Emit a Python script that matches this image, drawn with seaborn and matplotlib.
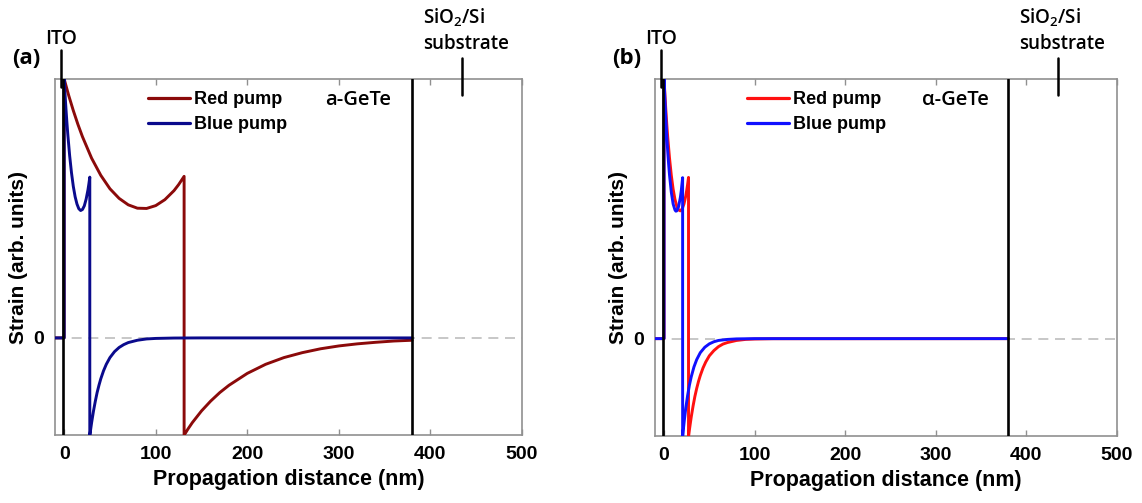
import matplotlib
matplotlib.use("Agg")
import matplotlib.pyplot as plt
import seaborn as sns

# ---- data ----
# panel (a): a-GeTe
a_red_x = [-10, 0, 0, 5, 10, 15, 20, 30, 40, 50, 60, 70, 80, 90, 100, 110, 120, 125, 131,
           131, 135, 140, 150, 160, 170, 180, 200, 220, 240, 260, 280, 300, 320, 340, 360, 380]
a_red_y = [0, 0, 1.0, 0.936, 0.878, 0.825, 0.777, 0.694, 0.628, 0.576, 0.539, 0.514, 0.501, 0.500,
           0.511, 0.534, 0.569, 0.592, 0.624,
           -0.376, -0.353, -0.327, -0.282, -0.244, -0.211, -0.183, -0.137, -0.102, -0.076, -0.057,
           -0.042, -0.031, -0.023, -0.017, -0.012, -0.009]

a_blue_x = [-10, 0, 0, 1, 2, 3, 4, 6, 8, 10, 12, 14, 16, 18, 20, 22, 24, 26, 27, 28,
            28, 29, 30, 32, 34, 36, 38, 40, 43, 46, 50, 55, 60, 65, 70, 80, 90, 100, 120, 150, 380]
a_blue_y = [0, 0, 1.0, 0.939, 0.883, 0.832, 0.785, 0.704, 0.638, 0.585, 0.545, 0.517, 0.499, 0.492,
            0.496, 0.510, 0.536, 0.572, 0.595, 0.621,
            -0.379, -0.352, -0.327, -0.283, -0.245, -0.211, -0.183, -0.158, -0.127, -0.102, -0.076,
            -0.053, -0.037, -0.026, -0.018, -0.009, -0.004, -0.002, -0.0005, 0, 0]

# panel (b): alpha-GeTe
b_red_x = [-10, 0, 0, 1, 2, 3, 4, 6, 8, 10, 12, 14, 16, 18, 20, 22, 24, 25, 26, 27,
           27, 28, 29, 30, 32, 34, 36, 38, 40, 43, 46, 50, 55, 60, 65, 70, 80, 90, 100, 120, 380]
b_red_y = [0, 0, 1.0, 0.937, 0.879, 0.826, 0.778, 0.696, 0.629, 0.576, 0.537, 0.511, 0.496, 0.492,
           0.500, 0.519, 0.550, 0.571, 0.594, 0.621,
           -0.379, -0.351, -0.326, -0.302, -0.260, -0.223, -0.192, -0.165, -0.142, -0.113, -0.090,
           -0.066, -0.046, -0.031, -0.021, -0.015, -0.007, -0.003, -0.0015, -0.0003, 0]

b_blue_x = [-10, 0, 0, 1, 2, 3, 4, 5, 6, 8, 10, 12, 13, 14, 16, 18, 19, 20.5,
            20.5, 21.5, 22.5, 24, 26, 28, 30, 33, 36, 40, 45, 50, 55, 60, 70, 80, 100, 380]
b_blue_y = [0, 0, 1.0, 0.918, 0.845, 0.780, 0.723, 0.674, 0.631, 0.564, 0.519, 0.496, 0.491, 0.492,
            0.508, 0.544, 0.570, 0.620,
            -0.380, -0.343, -0.311, -0.267, -0.219, -0.179, -0.147, -0.109, -0.081, -0.054, -0.033,
            -0.020, -0.012, -0.007, -0.003, -0.001, 0, 0]

x_ticks = [0, 100, 200, 300, 400, 500]
ito_pos = 0
substrate_pos = 380

sns.set_theme(style="white")
plt.rcParams["font.family"] = ["Liberation Sans", "DejaVu Sans"]
plt.rcParams["mathtext.default"] = "regular"
for key in ["text.color", "axes.labelcolor", "xtick.labelcolor", "ytick.labelcolor"]:
    plt.rcParams[key] = "black"

W, H = 1142, 503
fig = plt.figure(figsize=(W / 100, H / 100), dpi=100)

# axes boxes in pixels (left, top, right, bottom)
boxes = [(55, 79, 522, 435), (655, 79, 1117, 436)]

panels = [
    dict(red_x=a_red_x, red_y=a_red_y, blue_x=a_blue_x, blue_y=a_blue_y,
         red_c="#8b0a0a", blue_c="#0a0a8c", tag="(a)", film="a-GeTe"),
    dict(red_x=b_red_x, red_y=b_red_y, blue_x=b_blue_x, blue_y=b_blue_y,
         red_c="#ff1010", blue_c="#1010ff", tag="(b)", film="\u03b1-GeTe"),
]

side_font = ["Open Sans", "DejaVu Sans"]
lw = 2.1

for (l, t, r, b), p in zip(boxes, panels):
    ax = fig.add_axes([l / W, 1 - b / H, (r - l) / W, (b - t) / H])
    ax.axhline(0, color="#bdbdbd", lw=1.2, ls=(0, (6, 4)), zorder=1)
    sns.lineplot(x=p["red_x"], y=p["red_y"], ax=ax, sort=False, estimator=None,
                 color=p["red_c"], lw=lw, label="Red pump", zorder=3)
    sns.lineplot(x=p["blue_x"], y=p["blue_y"], ax=ax, sort=False, estimator=None,
                 color=p["blue_c"], lw=lw, label="Blue pump", zorder=4)
    ax.axvline(ito_pos - 0.8, color="black", lw=1.9, zorder=5)
    ax.axvline(substrate_pos, color="black", lw=1.9, zorder=5)

    ax.set_xlim(-10, 500)
    ax.set_ylim(-0.375, 1.0)
    ax.set_xticks(x_ticks)
    ax.set_yticks([0])
    ax.tick_params(axis="x", direction="in", length=4, width=1, color="#909090",
                   top=True, bottom=True, pad=8, labelsize=14)
    ax.tick_params(axis="y", length=0, pad=8, labelsize=14)
    for lab in ax.get_xticklabels() + ax.get_yticklabels():
        lab.set_fontweight("bold")
    for s in ax.spines.values():
        s.set_color("#909090")
        s.set_linewidth(1.2)

    ax.set_xlabel("Propagation distance (nm)", fontsize=15.5, fontweight="bold", labelpad=4)
    ax.set_ylabel("Strain (arb. units)", fontsize=15, fontweight="bold", labelpad=4)

    leg = ax.legend(loc="upper left", bbox_to_anchor=(0.2, 0.965), frameon=False,
                    prop=dict(weight="bold", size=13), handlelength=2.3,
                    handletextpad=0.25, labelspacing=0.42, borderpad=0, borderaxespad=0)
    for h in leg.get_lines():
        h.set_linewidth(2.3)

    ax.text(285, 0.94, p["film"], fontsize=14.5, family=side_font, fontweight="semibold",
            va="center", ha="left", transform=ax.get_xaxis_transform())

    # markers above the frame
    xt = ax.get_xaxis_transform()
    ax.plot([ito_pos - 3.5, ito_pos - 3.5], [0.978, 1.081], color="black", lw=1.8,
            transform=xt, clip_on=False, zorder=6)
    ax.plot([435, 435], [0.955, 1.059], color="black", lw=1.8,
            transform=xt, clip_on=False, zorder=6)
    ax.text(-3.5, 1.113, "ITO", fontsize=14, family=side_font, fontweight="semibold",
            ha="center", va="center", transform=xt)
    ax.text(392, 1.172, "SiO$_2$/Si", fontsize=13.5, family=side_font, fontweight="semibold",
            ha="left", va="center", transform=xt)
    ax.text(392, 1.098, "substrate", fontsize=13.5, family=side_font, fontweight="semibold",
            ha="left", va="center", transform=xt)
    fig.text((l - 43) / W, 1 - 58 / H, p["tag"], fontsize=16, family=side_font,
             fontweight="bold", ha="left", va="center")

fig.savefig("out.png", dpi=100)
